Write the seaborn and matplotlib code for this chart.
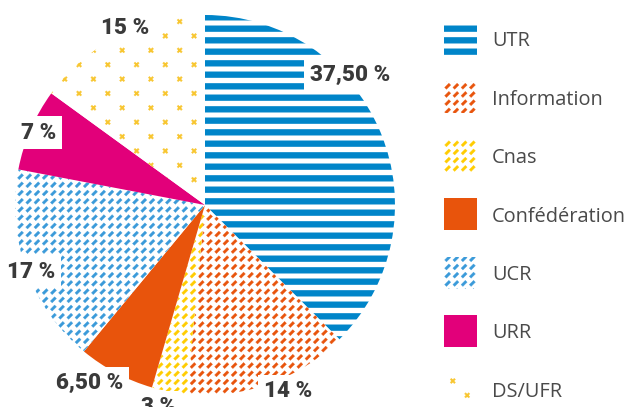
import numpy as np
import matplotlib
matplotlib.use("Agg")
import matplotlib.pyplot as plt
import matplotlib.hatch as mhatch
from matplotlib.path import Path
from matplotlib.patches import Rectangle
import seaborn as sns

# ---------------- data ----------------
categories = ["UTR", "Information", "Cnas", "Confédération", "UCR", "URR", "DS/UFR"]
values = [37.5, 14, 3, 6.5, 17, 7, 15]
value_labels = ["37,50 %", "14 %", "3 %", "6,50 %", "17 %", "7 %", "15 %"]

# ---------------- style / layout ----------------
colors = ["#0085C9", "#E8540C", "#FFCC00", "#E8540C", "#3A9AD9", "#E2007A", "#F8C630"]
patterns = ["-", "/", "/", None, "/", None, "x"]
label_radius = [1.035, 1.062, 1.081, 1.106, 0.976, 0.959, 1.037]
label_angle_shift = [20, 4.5, -2.4, -5.3, 0.4, -0.9, -3]

W, H = 633, 407
DPI = 115
TILE = float(DPI)  # hatch tile = 1 inch = DPI pixels


def rect_poly(cx, cy, ux, uy, half_len, half_w):
    nx, ny = -uy, ux
    return [(cx - ux * half_len - nx * half_w, cy - uy * half_len - ny * half_w),
            (cx + ux * half_len - nx * half_w, cy + uy * half_len - ny * half_w),
            (cx + ux * half_len + nx * half_w, cy + uy * half_len + ny * half_w),
            (cx - ux * half_len + nx * half_w, cy - uy * half_len + ny * half_w)]


class PolyHatch:
    char = None

    def __init__(self, hatch, density):
        self.polys = self.make_polys() if (hatch and self.char in hatch) else []
        self.num_vertices = 5 * len(self.polys)

    def set_vertices_and_codes(self, vertices, codes):
        for i, poly in enumerate(self.polys):
            vertices[5 * i:5 * i + 4] = poly
            vertices[5 * i + 4] = poly[0]
            codes[5 * i] = Path.MOVETO
            codes[5 * i + 1:5 * i + 4] = Path.LINETO
            codes[5 * i + 4] = Path.CLOSEPOLY


class StripeHatch(PolyHatch):
    char = "-"

    @staticmethod
    def make_polys():
        n = 10
        h = 6.0 / TILE / 2
        out = []
        for i in range(n):
            c = (i + 0.5) / n
            out.append([(-0.01, c - h), (1.01, c - h), (1.01, c + h), (-0.01, c + h)])
        return out


class DashHatch(PolyHatch):
    char = "/"

    @staticmethod
    def make_polys():
        n = 14
        s = 1 / np.sqrt(2)
        out = []
        for i in range(n):
            for j in range(n):
                out.append(rect_poly((i + 0.5) / n, (j + 0.5) / n, s, s,
                                     3.0 / TILE, 1.3 / TILE))
        return out


class CrossHatch(PolyHatch):
    char = "x"

    @staticmethod
    def make_polys():
        rows, cols = 8, 4
        s = 1 / np.sqrt(2)
        out = []
        for j in range(rows):
            for k in range(cols):
                cx = (k + 0.25 + 0.5 * (j % 2)) / cols
                cy = (j + 0.5) / rows
                out.append(rect_poly(cx, cy, s, s, 2.9 / TILE, 0.85 / TILE))
                out.append(rect_poly(cx, cy, s, -s, 2.9 / TILE, 0.85 / TILE))
        return out


mhatch._hatch_types[:] = [StripeHatch, DashHatch, CrossHatch]

sns.set_theme(style="white")
plt.rcParams["font.family"] = ["Roboto", "DejaVu Sans"]
plt.rcParams["hatch.linewidth"] = 0.2

fig = plt.figure(figsize=(W / DPI, H / DPI), dpi=DPI)
ax = fig.add_axes([15 / W, 12 / H, 380 / W, 380 / H])
wedges, _ = ax.pie(values, startangle=90, counterclock=False, radius=1.0,
                   wedgeprops=dict(linewidth=0))


def style_patch(p, col, pat):
    p.set_linewidth(0)
    if pat is None:
        p.set_facecolor(col)
        p.set_edgecolor(col)
    else:
        p.set_facecolor("white")
        p.set_edgecolor(col)
        p.set_hatch(pat)


for w, col, pat in zip(wedges, colors, patterns):
    style_patch(w, col, pat)

ax.set_xlim(-1, 1)
ax.set_ylim(-1, 1)
ax.set_aspect("equal")
ax.axis("off")

for w, txt, r, dth in zip(wedges, value_labels, label_radius, label_angle_shift):
    ang = np.deg2rad((w.theta1 + w.theta2) / 2 + dth)
    ax.text(r * np.cos(ang), r * np.sin(ang), txt, ha="center", va="center_baseline",
            fontsize=14, fontweight="black", color="#3a3a3a", zorder=5, clip_on=False,
            bbox=dict(boxstyle="square,pad=0.25", fc="white", ec="none"))

# legend drawn as swatches + labels (figure pixel layout)
leg_x, leg_y0, leg_dy = 444, 39, 58.4
sw_w, sw_h = 33, 32
for i, (cat, col, pat) in enumerate(zip(categories, colors, patterns)):
    yc = leg_y0 + i * leg_dy
    rect = Rectangle((leg_x / W, 1 - (yc + sw_h / 2) / H), sw_w / W, sw_h / H,
                     transform=fig.transFigure)
    style_patch(rect, col, pat)
    fig.add_artist(rect)
    fig.text(492 / W, 1 - yc / H, cat, ha="left", va="center_baseline",
             fontsize=12.5, family=["Open Sans", "DejaVu Sans"], color="#4a4a4a")

fig.savefig("out.png", dpi=DPI)
